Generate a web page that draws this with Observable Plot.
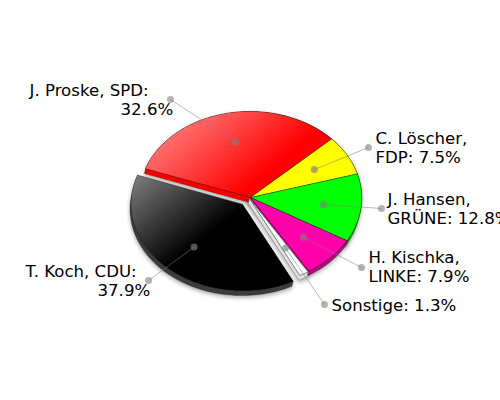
<!DOCTYPE html>
<html><head><meta charset="utf-8">
<script src="https://cdn.jsdelivr.net/npm/d3@7"></script>
<script src="https://cdn.jsdelivr.net/npm/@observablehq/plot@0.6"></script>
<style>html,body{margin:0;padding:0;background:#fff}svg{display:block}</style>
</head><body><div id="chart"></div>
<script>
const candidates = ["J. Proske, SPD", "C. Löscher, FDP", "J. Hansen, GRÜNE", "H. Kischka, LINKE", "Sonstige", "T. Koch, CDU"];
const shares = [32.6, 7.5, 12.8, 7.9, 1.3, 37.9];
const colors = ["#ff0000", "#ffff00", "#00ff00", "#ff00aa", "#ffffff", "#000000"];
const rimColors = ["#f00000", "#b0b000", "#00a000", "#a8107a", "#e0e0e0", "#3a3a3a"];
const explodeX = [0, 0, 0, 0, -1, -8];
const explodeY = [0, 0, 0, 0, 1, 7];
const labelLines = ["J. Proske, SPD:", "32.6%", "C. Löscher,", "FDP: 7.5%", "J. Hansen,", "GRÜNE: 12.8%", "H. Kischka,", "LINKE: 7.9%", "Sonstige: 1.3%", "T. Koch, CDU:", "37.9%"];
const labelX = [-221, -130, 125, 125, 137, 137, 118, 118, 81, -225, -153];
const labelY = [-107, -87.5, -59, -40, 2, 21, 60, 79.5, 108, 74, 93];
const calloutX = [-80, 118, 131, 111, 74, -102];
const calloutY = [-98, -50, 11, 70, 107, 83];

// projected pie: the tilted disc's two axes, in pixels from the centre
const U = [-105, -29], V = [37, -81], depth = [-1.2, 5], innerR = 0.66;
const point = (t, r = 1, o = [0, 0]) => {
  const a = 2 * Math.PI * t;
  return [o[0] + r * (U[0] * Math.cos(a) + V[0] * Math.sin(a)), o[1] + r * (U[1] * Math.cos(a) + V[1] * Math.sin(a))];
};
const total = d3.sum(shares);
let acc = 0;
const slices = shares.map((s, i) => {
  const t0 = acc / total; acc += s; const t1 = acc / total;
  const o = [explodeX[i], explodeY[i]];
  const n = Math.max(2, Math.ceil((t1 - t0) * 120));
  const top = [o, ...d3.range(n + 1).map(k => point(t0 + (t1 - t0) * k / n, 1, o))];
  const side = d3.polygonHull([...top, ...top.map(p => [p[0] + depth[0], p[1] + depth[1]])]);
  const inner = point((t0 + t1) / 2, innerR, o);
  return {i, top, side, inner, outer: [calloutX[i], calloutY[i]]};
});
const order = [0, 1, 2, 3, 5, 4];
const XY = {x: d => d[0], y: d => d[1]};
const shadow = (index, scales, values, dims, ctx, next) => {
  const g = next(index, scales, values, dims, ctx);
  g.setAttribute("filter", "url(#soft)");
  return g;
};
const marks = [];
for (const j of order) {
  const s = slices[j];
  marks.push(Plot.line(s.side, {...XY, curve: "linear-closed", fill: rimColors[j], stroke: j === 4 ? "#777" : "#000", strokeOpacity: j === 4 ? 0.8 : 0.25, strokeWidth: 0.8, render: shadow}));
}
for (const j of order) {
  const s = slices[j];
  marks.push(Plot.line(s.top, {...XY, curve: "linear-closed", fill: colors[j], stroke: j === 4 ? "#777" : "#000", strokeOpacity: j === 4 ? 0.9 : 0.4, strokeWidth: 1}));
  if (j === 0 || j === 5) marks.push(Plot.line(s.top, {...XY, curve: "linear-closed", fill: j === 0 ? "url(#gRed)" : "url(#gBlack)", stroke: "none"}));
}
const calloutFill = "#808080";
marks.push(
  Plot.link(slices, {x1: d => d.inner[0], y1: d => d.inner[1], x2: d => d.outer[0], y2: d => d.outer[1], stroke: calloutFill, strokeOpacity: 0.55, strokeWidth: 1}),
  Plot.dot(slices, {x: d => d.inner[0], y: d => d.inner[1], r: 3.5, fill: calloutFill, fillOpacity: 0.65, stroke: "none"}),
  Plot.dot(slices, {x: d => d.outer[0], y: d => d.outer[1], r: 3.5, fill: calloutFill, fillOpacity: 0.6, stroke: "none"}),
  Plot.text(labelLines, {x: (d, i) => labelX[i], y: (d, i) => labelY[i], text: d => d, textAnchor: "start", fontSize: 16.6, fontFamily: "DejaVu Sans", fill: "#000"})
);
const svg = Plot.plot({
  width: 500, height: 400, margin: 0,
  x: {domain: [-250, 250], range: [0, 500], axis: null},
  y: {domain: [-197, 203], range: [0, 400], axis: null},
  style: {background: "#fff", overflow: "hidden"},
  marks
});
svg.insertAdjacentHTML("afterbegin", `<defs>
<linearGradient id="gRed" x1="0" y1="0" x2="1" y2="0.55"><stop offset="0" stop-color="#fff" stop-opacity="0.6"/><stop offset="0.8" stop-color="#fff" stop-opacity="0"/></linearGradient>
<linearGradient id="gBlack" x1="0" y1="0" x2="1" y2="0.9"><stop offset="0" stop-color="#fff" stop-opacity="0.5"/><stop offset="0.52" stop-color="#fff" stop-opacity="0"/></linearGradient>
<filter id="soft" x="-20%" y="-20%" width="140%" height="140%"><feDropShadow dx="0" dy="2" stdDeviation="2" flood-color="#000" flood-opacity="0.35"/></filter>
</defs>`);
document.getElementById("chart").append(svg);
</script></body></html>
